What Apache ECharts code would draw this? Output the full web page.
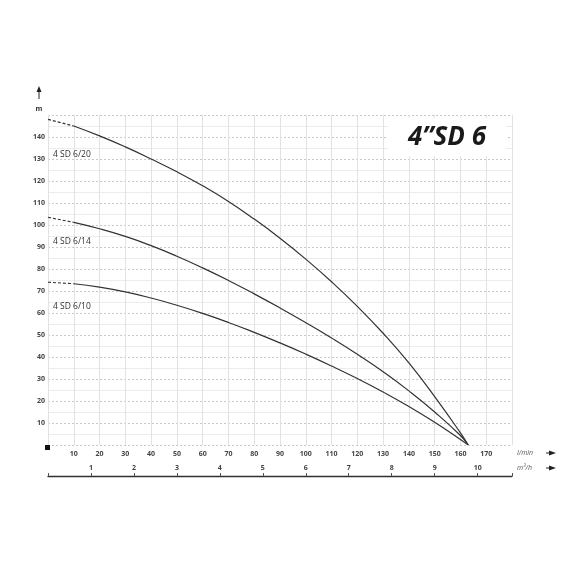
<!DOCTYPE html>
<html>
<head>
<meta charset="utf-8">
<script src="https://cdn.jsdelivr.net/npm/echarts@6/dist/echarts.min.js"></script>
<style>
  html, body { margin: 0; padding: 0; background: #fff; }
  #chart { width: 570px; height: 570px; }
</style>
</head>
<body>
<div id="chart"></div>
<script>
// flow in l/min and head in m
var flow = [0, 10, 20, 30, 40, 50, 60, 70, 80, 90, 100, 110, 120, 130, 140, 150, 160, 163];
var sd620 = [148, 145, 140.5, 135.5, 130, 124.2, 117.8, 110.7, 102.7, 94, 84.5, 74.2, 63, 50.8, 37.3, 22, 5.5, 0];
var sd614 = [103.5, 101.2, 98.3, 94.8, 90.6, 85.8, 80.5, 74.8, 68.7, 62.3, 55.6, 48.6, 41.2, 33.3, 24.6, 15, 4.3, 0];
var sd610 = [74, 73.3, 71.8, 69.6, 66.8, 63.5, 59.8, 55.7, 51.2, 46.4, 41.3, 35.9, 30.2, 24.1, 17.5, 10.3, 2.5, 0];
var names = ['4 SD 6/20', '4 SD 6/14', '4 SD 6/10'];
var lpmPerM3h = 1000 / 60;

var chart = echarts.init(document.getElementById('chart'));
var curves = [sd620, sd614, sd610];
var series = [];
curves.forEach(function (h, k) {
  var pts = flow.map(function (q, i) { return [q, h[i]]; });
  // dashed start, solid from 10 l/min
  series.push({
    name: names[k] + ' start', type: 'line', symbol: 'none',
    data: pts.slice(0, 2),
    lineStyle: { color: '#333', width: 1.1, type: [3, 2] }
  });
  series.push({
    name: names[k], type: 'line', smooth: true, symbol: 'none',
    data: pts.slice(1),
    lineStyle: { color: '#333', width: 1.2 }
  });
});

var lblStyle = { color: '#444', fontSize: 7, fontWeight: 'bold', fontFamily: 'Open Sans' };

var option = {
  animation: false,
  grid: { left: 48, right: 58, top: 115, bottom: 125 },
  xAxis: [{
    type: 'value', min: 0, max: 180, interval: 10,
    axisLine: { show: false }, axisTick: { show: false },
    axisLabel: Object.assign({ margin: 5, formatter: function (v) { return (v === 0 || v === 180) ? '' : v; } }, lblStyle),
    splitLine: { show: true, lineStyle: { color: '#e2e2e2', width: 1 } }
  }, {
    type: 'value', min: 0, max: 180 / lpmPerM3h, interval: 1,
    position: 'bottom', offset: 31,
    axisLine: { show: true, lineStyle: { color: '#333', width: 1.3 } },
    axisTick: { show: true, inside: true, length: 3, lineStyle: { color: '#555' } },
    axisLabel: Object.assign({ inside: true, margin: 5, formatter: function (v) { return (v === 0 || v > 10) ? '' : v; } }, lblStyle),
    splitLine: { show: false }
  }],
  yAxis: {
    type: 'value', min: 0, max: 150, interval: 10,
    axisLine: { show: false }, axisTick: { show: false },
    axisLabel: Object.assign({ margin: 3, formatter: function (v) { return (v === 0 || v === 150) ? '' : v; } }, lblStyle),
    splitLine: { show: true, lineStyle: { color: '#c8c8c8', width: 1, type: [2, 2] } },
    minorTick: { show: false, splitNumber: 2 },
    minorSplitLine: { show: true, lineStyle: { color: '#ececec', width: 1 } }
  },
  series: series,
  graphic: [
    { type: 'rect', shape: { x: 388, y: 118, width: 118, height: 38 }, style: { fill: '#fff' }, z: 10 },
    { type: 'text', x: 447, y: 138, z: 11,
      style: { text: '4\u201DSD 6', font: 'italic bold 26px "Open Sans"', fill: '#1a1a1a', textAlign: 'center', textVerticalAlign: 'middle' } },
    { type: 'text', x: 53, y: 155, z: 11, style: { text: names[0], font: '8.5px "Open Sans"', fill: '#333', textVerticalAlign: 'middle' } },
    { type: 'text', x: 53, y: 241.5, z: 11, style: { text: names[1], font: '8.5px "Open Sans"', fill: '#333', textVerticalAlign: 'middle' } },
    { type: 'text', x: 53, y: 307, z: 11, style: { text: names[2], font: '8.5px "Open Sans"', fill: '#333', textVerticalAlign: 'middle' } },
    { type: 'text', x: 39, y: 109, z: 11, style: { text: 'm', font: 'bold 7px "Open Sans"', fill: '#333', textAlign: 'center', textVerticalAlign: 'middle' } },
    { type: 'line', shape: { x1: 39, y1: 99, x2: 39, y2: 90 }, style: { stroke: '#222', lineWidth: 1 }, z: 11 },
    { type: 'polygon', shape: { points: [[39, 86], [36.5, 92], [41.5, 92]] }, style: { fill: '#222' }, z: 11 },
    { type: 'rect', shape: { x: 45, y: 445, width: 5, height: 5 }, style: { fill: '#111' }, z: 11 },
    { type: 'text', x: 517, y: 453, z: 11, style: { text: 'l/min', font: 'italic 7px "Open Sans"', fill: '#555', textVerticalAlign: 'middle' } },
    { type: 'text', x: 517, y: 468, z: 11, style: { text: 'm\u00B3/h', font: 'italic 7px "Open Sans"', fill: '#555', textVerticalAlign: 'middle' } },
    { type: 'line', shape: { x1: 546, y1: 453, x2: 552, y2: 453 }, style: { stroke: '#222', lineWidth: 1 }, z: 11 },
    { type: 'polygon', shape: { points: [[556, 453], [549, 450.5], [549, 455.5]] }, style: { fill: '#222' }, z: 11 },
    { type: 'line', shape: { x1: 546, y1: 468, x2: 552, y2: 468 }, style: { stroke: '#222', lineWidth: 1 }, z: 11 },
    { type: 'polygon', shape: { points: [[556, 468], [549, 465.5], [549, 470.5]] }, style: { fill: '#222' }, z: 11 }
  ]
};
chart.setOption(option);
</script>
</body>
</html>
